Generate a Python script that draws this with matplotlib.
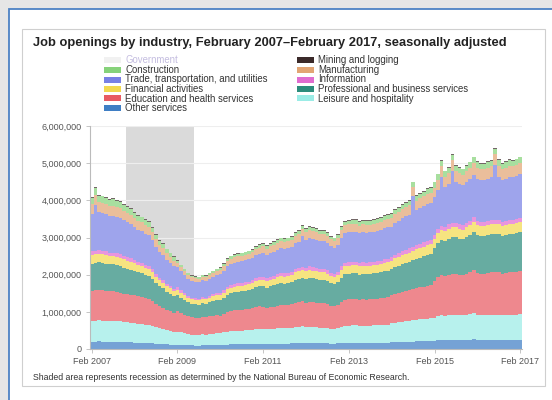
import matplotlib
matplotlib.use("Agg")
import matplotlib.pyplot as plt
from matplotlib.patches import Rectangle
from matplotlib.ticker import FuncFormatter
from matplotlib.colors import to_rgb
import numpy as np

plt.rcParams['font.family'] = ['Liberation Sans', 'DejaVu Sans']

title = "Job openings by industry, February 2007\u2013February 2017, seasonally adjusted"
footnote = "Shaded area represents recession as determined by the National Bureau of Economic Research."

x_tick_labels = ["Feb 2007", "Feb 2009", "Feb 2011", "Feb 2013", "Feb 2015", "Feb 2017"]
x_tick_months = [0, 24, 48, 72, 96, 120]
recession_start = 10   # Dec 2007
recession_end = 28     # Jun 2009

# Monthly job openings, thousands, Feb 2007 .. Feb 2017 (121 months)
other_services = [
    200, 200, 205, 200, 200, 200, 200, 195, 195, 190, 190, 185,
    170, 165, 165, 160, 160, 150, 145, 135, 130, 125, 120, 115,
    110, 105, 100, 95, 95, 90, 90, 95, 95, 95, 100, 100,
    110, 115, 120, 125, 125, 125, 125, 130, 130, 130, 135, 140,
    140, 135, 140, 140, 145, 145, 145, 145, 150, 155, 155, 160,
    155, 160, 155, 155, 155, 155, 150, 145, 145, 150, 160, 165,
    165, 165, 165, 160, 165, 165, 165, 165, 165, 165, 170, 170,
    180, 185, 185, 190, 195, 195, 200, 205, 205, 210, 210, 215,
    225, 235, 245, 240, 245, 250, 250, 245, 245, 250, 255, 260,
    245, 245, 245, 245, 250, 250, 250, 245, 245, 250, 250, 250,
    255]
leisure = [
    560, 565, 570, 565, 560, 555, 555, 550, 545, 535, 525, 520,
    525, 515, 510, 495, 490, 470, 440, 420, 405, 385, 370, 355,
    355, 340, 325, 310, 295, 295, 290, 300, 295, 310, 315, 325,
    315, 330, 350, 360, 365, 370, 370, 375, 380, 385, 400, 405,
    400, 390, 400, 405, 415, 420, 415, 420, 425, 440, 450, 455,
    430, 435, 435, 430, 420, 420, 415, 405, 395, 410, 435, 455,
    465, 470, 470, 460, 465, 465, 465, 470, 470, 475, 480, 485,
    510, 525, 535, 545, 555, 560, 570, 580, 590, 595, 605, 610,
    610, 640, 660, 655, 665, 675, 675, 665, 660, 675, 685, 705,
    665, 660, 660, 665, 670, 670, 675, 660, 665, 675, 670, 675,
    680]
education_health = [
    805, 810, 815, 810, 805, 795, 795, 790, 780, 765, 755, 745,
    750, 735, 725, 710, 700, 670, 630, 600, 580, 550, 530, 510,
    550, 520, 500, 475, 460, 450, 450, 465, 460, 475, 485, 500,
    475, 495, 525, 540, 550, 555, 560, 565, 570, 580, 600, 605,
    585, 575, 585, 595, 610, 620, 615, 620, 630, 650, 660, 670,
    660, 670, 665, 660, 650, 650, 640, 620, 610, 630, 670, 700,
    705, 710, 710, 700, 705, 700, 705, 710, 715, 720, 730, 735,
    750, 770, 785, 800, 810, 820, 835, 850, 860, 870, 885, 895,
    1000, 1050, 1075, 1065, 1090, 1100, 1100, 1090, 1080, 1100, 1120, 1150,
    1130, 1120, 1120, 1130, 1140, 1140, 1140, 1120, 1130, 1140, 1140, 1145,
    1160]
professional_business = [
    735, 740, 745, 740, 735, 725, 725, 720, 710, 700, 690, 680,
    665, 650, 645, 630, 620, 595, 560, 530, 515, 485, 470, 450,
    445, 420, 400, 380, 370, 365, 360, 370, 370, 380, 390, 400,
    420, 435, 465, 475, 485, 490, 495, 500, 505, 515, 530, 535,
    560, 550, 560, 570, 580, 590, 585, 590, 600, 615, 625, 635,
    645, 655, 650, 645, 635, 635, 625, 605, 595, 615, 655, 685,
    685, 690, 690, 680, 685, 680, 685, 690, 695, 700, 710, 715,
    700, 720, 735, 750, 760, 770, 785, 795, 805, 815, 830, 835,
    890, 935, 960, 950, 970, 980, 980, 970, 965, 980, 1000, 1025,
    1030, 1020, 1020, 1030, 1035, 1035, 1040, 1020, 1030, 1040, 1035, 1045,
    1055]
financial = [
    230, 230, 230, 230, 230, 225, 225, 225, 225, 220, 215, 215,
    200, 195, 195, 190, 185, 180, 165, 160, 155, 145, 140, 135,
    140, 135, 125, 120, 115, 115, 115, 120, 115, 120, 125, 125,
    130, 140, 145, 150, 155, 155, 155, 155, 160, 160, 165, 170,
    180, 175, 180, 185, 185, 190, 190, 190, 190, 200, 200, 205,
    205, 210, 205, 205, 200, 200, 200, 190, 190, 195, 210, 215,
    225, 225, 225, 220, 225, 220, 220, 225, 225, 225, 230, 230,
    225, 235, 235, 240, 245, 250, 255, 255, 260, 265, 270, 270,
    245, 255, 260, 260, 265, 265, 265, 265, 265, 265, 275, 280,
    265, 260, 260, 265, 265, 265, 265, 260, 265, 265, 265, 265,
    270]
information = [
    100, 100, 100, 100, 100, 95, 95, 95, 95, 95, 90, 90,
    90, 85, 85, 85, 85, 80, 75, 70, 70, 65, 60, 60,
    60, 55, 55, 50, 50, 50, 50, 50, 50, 50, 55, 55,
    60, 60, 65, 70, 70, 70, 70, 70, 70, 75, 75, 75,
    80, 80, 80, 80, 85, 85, 85, 85, 85, 90, 90, 90,
    90, 90, 90, 90, 85, 85, 85, 80, 80, 85, 90, 95,
    90, 90, 90, 90, 90, 90, 90, 90, 90, 90, 95, 95,
    100, 100, 105, 105, 105, 110, 110, 110, 115, 115, 115, 120,
    110, 115, 115, 115, 120, 120, 120, 120, 115, 120, 120, 125,
    110, 110, 110, 110, 110, 110, 110, 110, 110, 110, 110, 115,
    115]
trade = [
    1005, 1230, 1015, 1010, 1005, 990, 995, 985, 975, 955, 945, 930,
    880, 860, 850, 835, 820, 785, 740, 700, 680, 645, 620, 595,
    545, 515, 490, 465, 450, 445, 440, 455, 450, 465, 480, 490,
    495, 520, 550, 565, 575, 580, 585, 590, 595, 610, 625, 635,
    635, 620, 635, 645, 655, 665, 660, 665, 675, 700, 710, 820,
    760, 770, 770, 760, 750, 750, 735, 715, 700, 725, 770, 805,
    805, 810, 810, 800, 805, 805, 805, 810, 815, 825, 835, 840,
    830, 855, 870, 890, 900, 910, 1350, 945, 960, 970, 985, 995,
    1000, 1050, 1325, 1065, 1090, 1400, 1100, 1090, 1080, 1100, 1120, 1150,
    1140, 1130, 1130, 1140, 1150, 1470, 1155, 1130, 1140, 1155, 1150, 1155,
    1170]
manufacturing = [
    270, 275, 275, 275, 270, 265, 270, 265, 265, 255, 255, 250,
    235, 230, 230, 225, 220, 210, 200, 190, 180, 175, 165, 160,
    115, 110, 105, 100, 95, 95, 95, 95, 95, 100, 100, 105,
    130, 135, 140, 145, 150, 150, 150, 150, 155, 155, 160, 165,
    180, 175, 180, 185, 185, 190, 190, 190, 190, 200, 200, 205,
    200, 205, 205, 200, 200, 200, 195, 190, 185, 190, 205, 215,
    210, 215, 215, 210, 210, 210, 210, 215, 215, 215, 220, 220,
    225, 235, 235, 240, 245, 250, 255, 255, 260, 265, 270, 270,
    265, 280, 285, 285, 290, 290, 290, 290, 285, 290, 300, 305,
    295, 290, 290, 295, 295, 295, 295, 290, 295, 295, 295, 295,
    300]
construction = [
    170, 175, 175, 175, 170, 170, 170, 170, 165, 165, 160, 160,
    140, 140, 135, 135, 130, 125, 120, 110, 110, 105, 100, 95,
    55, 50, 50, 45, 45, 45, 45, 45, 45, 45, 50, 50,
    55, 55, 60, 60, 60, 60, 60, 65, 65, 65, 65, 70,
    70, 65, 70, 70, 70, 70, 70, 70, 75, 75, 75, 80,
    80, 85, 80, 80, 80, 80, 80, 75, 75, 80, 85, 85,
    100, 100, 100, 100, 100, 100, 100, 100, 100, 105, 105, 105,
    110, 115, 115, 115, 120, 120, 120, 125, 125, 130, 130, 130,
    135, 140, 145, 145, 145, 150, 150, 145, 145, 150, 150, 155,
    150, 150, 150, 150, 150, 150, 155, 150, 150, 155, 150, 155,
    155]
mining_logging = [
    25, 25, 26, 25, 24, 24, 25, 24, 24, 23, 23, 23,
    26, 25, 25, 25, 24, 23, 22, 21, 20, 19, 18, 18,
    10, 9, 9, 8, 8, 8, 8, 8, 8, 8, 8, 9,
    15, 16, 17, 18, 18, 18, 18, 18, 19, 19, 19, 20,
    23, 22, 23, 23, 24, 24, 24, 24, 24, 25, 26, 26,
    26, 26, 26, 26, 26, 26, 25, 24, 24, 25, 26, 28,
    24, 25, 25, 24, 24, 24, 24, 25, 25, 25, 25, 25,
    18, 19, 19, 20, 20, 20, 20, 21, 21, 21, 22, 22,
    14, 14, 15, 14, 15, 15, 15, 15, 15, 15, 15, 16,
    15, 15, 16, 15, 15, 16, 15, 14, 15, 15, 16, 15,
    16]

# stacking order bottom -> top
stack_names = ["Other services", "Leisure and hospitality", "Education and health services",
               "Professional and business services", "Financial activities", "Information",
               "Trade, transportation, and utilities", "Manufacturing", "Construction",
               "Mining and logging"]
stack_values = [other_services, leisure, education_health, professional_business, financial,
                information, trade, manufacturing, construction, mining_logging]

colors = {
    "Government": "#d8d8d8",
    "Mining and logging": "#3b2a2a",
    "Construction": "#86d27a",
    "Manufacturing": "#e2a574",
    "Trade, transportation, and utilities": "#7880e4",
    "Information": "#e06cd0",
    "Financial activities": "#f2d94f",
    "Professional and business services": "#2c8c7c",
    "Education and health services": "#e85a62",
    "Leisure and hospitality": "#9bece6",
    "Other services": "#3f7ec4",
}

def pale(c, a=0.72):
    r, g, b = to_rgb(c)
    return (a * r + 1 - a, a * g + 1 - a, a * b + 1 - a)

legend_left = ["Government", "Construction", "Trade, transportation, and utilities",
               "Financial activities", "Education and health services", "Other services"]
legend_right = ["Mining and logging", "Manufacturing", "Information",
                "Professional and business services", "Leisure and hospitality"]

W, H = 552, 400
fig = plt.figure(figsize=(W / 100, H / 100), dpi=100)
fig.patch.set_facecolor("#e6e6e6")

def fx(x):
    return x / W

def fy(y):
    return 1 - y / H

# white panel with blue border
fig.patches.append(Rectangle((fx(9), fy(420)), fx(560) - fx(9), fy(9) - fy(420),
                             transform=fig.transFigure, facecolor="white",
                             edgecolor="#4d82c4", lw=1.3, zorder=-5))
# inner box
fig.patches.append(Rectangle((fx(22), fy(386)), fx(545) - fx(22), fy(29) - fy(386),
                             transform=fig.transFigure, facecolor="none",
                             edgecolor="#cfcfcf", lw=0.8, zorder=-4))

fig.text(fx(33), fy(43), title, fontsize=9.3, fontweight="bold", color="#222222",
         va="center", ha="left")

row_y = [60, 70, 79.5, 89, 98.5, 108]
for i, name in enumerate(legend_left):
    hidden = name == "Government"
    fig.patches.append(Rectangle((fx(104), fy(row_y[i] + 3)), fx(17), fy(0) - fy(6),
                                 transform=fig.transFigure, facecolor=colors[name],
                                 edgecolor="none", alpha=0.35 if hidden else 1))
    fig.text(fx(125), fy(row_y[i]), name, fontsize=6.9, va="center", ha="left",
             color="#c4bde0" if hidden else "#333333")
for i, name in enumerate(legend_right):
    fig.patches.append(Rectangle((fx(297), fy(row_y[i] + 3)), fx(17), fy(0) - fy(6),
                                 transform=fig.transFigure, facecolor=colors[name],
                                 edgecolor="none"))
    fig.text(fx(318), fy(row_y[i]), name, fontsize=6.9, va="center", ha="left",
             color="#333333")

ax = fig.add_axes([fx(90), fy(349), fx(522) - fx(90), fy(126) - fy(349)])
ax.set_zorder(2)
ax.set_facecolor("none")
months = np.arange(len(other_services))
ax.axvspan(recession_start - 0.5, recession_end + 0.5, color="#dadada", zorder=0, lw=0)
ax.set_axisbelow(True)
ax.yaxis.grid(True, color="#eeeeee", lw=0.8)

bottom = np.zeros(len(months))
for name, vals in zip(stack_names, stack_values):
    v = np.array(vals, dtype=float) * 1000
    ax.bar(months, v, bottom=bottom, width=1.0, color=pale(colors[name]),
           edgecolor="none", zorder=2)
    bottom += v

ax.set_xlim(-0.5, 120.5)
ax.set_ylim(0, 6_000_000)
ax.set_yticks(np.arange(0, 6_000_001, 1_000_000))
ax.yaxis.set_major_formatter(FuncFormatter(lambda v, p: f"{int(v):,}"))
ax.set_xticks(x_tick_months)
ax.set_xticklabels(x_tick_labels)
for s in ["top", "right"]:
    ax.spines[s].set_visible(False)
for s in ["left", "bottom"]:
    ax.spines[s].set_color("#bbbbbb")
    ax.spines[s].set_linewidth(0.8)
ax.tick_params(axis="both", labelsize=6.5, colors="#555555", length=3, width=0.6,
               color="#bbbbbb", pad=3)

fig.text(fx(33), fy(378), footnote, fontsize=6.3, color="#333333", va="center", ha="left")

fig.savefig("out.png", dpi=100, facecolor=fig.get_facecolor())
